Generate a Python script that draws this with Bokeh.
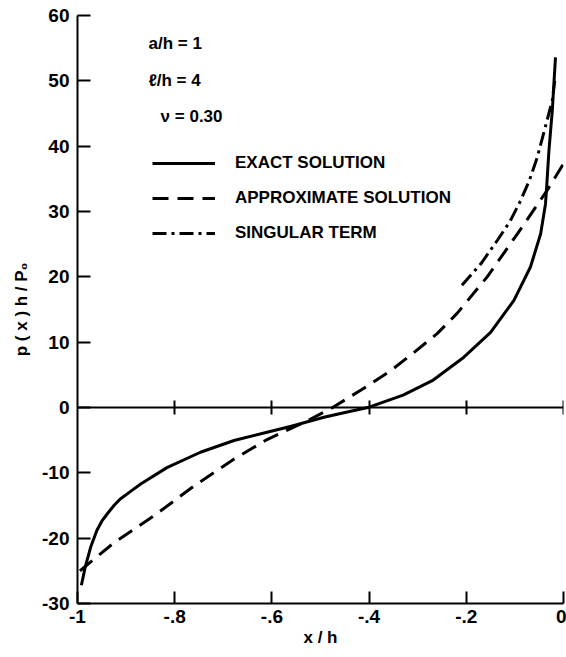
from bokeh.plotting import figure
from bokeh.models import LinearAxis, FixedTicker, Legend, LegendItem, Label
from bokeh.embed import file_html
from bokeh.resources import INLINE

# ---- data ----
exact_x = [-0.992, -0.984, -0.973, -0.96, -0.95, -0.939, -0.925, -0.912, -0.89, -0.87, -0.816,
           -0.747, -0.678, -0.61, -0.562, -0.493, -0.445, -0.40, -0.33, -0.27, -0.205,
           -0.15, -0.102, -0.068, -0.047, -0.037, -0.034, -0.030, -0.023, -0.0165]
exact_y = [-27.2, -24.4, -21.4, -18.8, -17.4, -16.3, -15.0, -14.0, -12.8, -11.7, -9.2,
           -6.85, -5.05, -3.8, -2.9, -1.5, -0.7, 0.05, 1.9, 4.1, 7.7,
           11.5, 16.4, 21.5, 26.6, 31.2, 34.5, 39.3, 45.5, 53.6]

approx_x = [-0.995, -0.925, -0.843, -0.76, -0.68, -0.61, -0.534, -0.475, -0.414, -0.356,
            -0.308, -0.26, -0.219, -0.157, -0.088, -0.034, 0.0]
approx_y = [-25.0, -20.7, -16.6, -12.0, -8.0, -4.9, -2.3, 0.0, 2.8, 5.6,
            8.4, 11.3, 14.4, 20.0, 27.3, 33.2, 37.3]

sing_x = [-0.209, -0.17, -0.136, -0.11, -0.088, -0.07, -0.054, -0.034, -0.023, -0.018]
sing_y = [18.7, 22.0, 25.6, 28.5, 31.7, 34.8, 38.3, 43.9, 47.0, 50.0]

x_ticks = [-1, -0.8, -0.6, -0.4, -0.2, 0]
x_tick_labels = ["-1", "-.8", "-.6", "-.4", "-.2", "0"]
y_ticks = [-30, -20, -10, 0, 10, 20, 30, 40, 50, 60]
y_tick_labels = ["-30", "-20", "-10", "0", "10", "20", "30", "40", "50", "60"]

series_names = ["EXACT SOLUTION", "APPROXIMATE SOLUTION", "SINGULAR TERM"]
notes = ["a/h = 1", "\u2113/h = 4", "\u03bd  = 0.30"]
x_title = "x / h"
y_title = "p ( x ) h / P\u2080"

# ---- style / layout ----
FONT = "Liberation Sans"
note_x = [-0.854, -0.854, -0.829]
note_y = [55.7, 50.05, 44.5]

p = figure(width=566, height=657, x_range=(-1, 0), y_range=(-30, 60),
           output_backend="svg", toolbar_location=None,
           min_border_left=77, min_border_right=3, min_border_top=15, min_border_bottom=54,
           x_axis_label=x_title, y_axis_label=y_title)
p.grid.visible = False
p.outline_line_color = None
p.background_fill_color = "white"
p.border_fill_color = "white"

for ax in p.xaxis + p.yaxis:
    ax.axis_line_width = 2
    ax.major_tick_line_width = 2
    ax.minor_tick_in = 0
    ax.minor_tick_out = 0
    ax.major_tick_out = 0
    ax.major_label_text_font = FONT
    ax.major_label_text_font_style = "bold"
    ax.major_label_text_font_size = "19px"
    ax.major_label_text_color = "black"
    ax.axis_label_text_font = FONT
    ax.axis_label_text_font_style = "bold"
    ax.axis_label_text_font_size = "17px"
    ax.axis_label_text_color = "black"

p.xaxis.ticker = FixedTicker(ticks=x_ticks)
p.xaxis.major_label_overrides = dict(zip(x_ticks, x_tick_labels))
p.xaxis.major_tick_in = 12
p.xaxis.major_label_standoff = 6
p.xaxis.axis_label_standoff = 2

p.yaxis.ticker = FixedTicker(ticks=y_ticks)
p.yaxis.major_label_overrides = dict(zip(y_ticks, y_tick_labels))
p.yaxis.major_tick_in = 13
p.yaxis.major_label_standoff = 8
p.yaxis.axis_label_standoff = 8

# axis line through y = 0 with ticks crossing it (no labels)
zero_ticks = x_ticks[1:]
zero_axis = LinearAxis(fixed_location=0, ticker=FixedTicker(ticks=zero_ticks),
                       major_label_overrides={t: "" for t in zero_ticks},
                       major_label_standoff=0,
                       major_tick_in=7, major_tick_out=7,
                       minor_tick_in=0, minor_tick_out=0,
                       axis_line_width=2, major_tick_line_width=2)
p.add_layout(zero_axis, "below")

r_exact = p.line(exact_x, exact_y, line_color="black", line_width=3, line_join="round")
r_approx = p.line(approx_x, approx_y, line_color="black", line_width=3, line_dash="16 9",
                  line_join="round")
r_sing = p.line(sing_x, sing_y, line_color="black", line_width=3, line_dash="14 5 3 5",
                line_join="round")

legend = Legend(items=[LegendItem(label=series_names[0], renderers=[r_exact]),
                       LegendItem(label=series_names[1], renderers=[r_approx]),
                       LegendItem(label=series_names[2], renderers=[r_sing])],
                location=(75, 360), padding=0, margin=0, spacing=15,
                glyph_width=63, glyph_height=20, label_height=20, label_standoff=20,
                label_text_font=FONT, label_text_font_size="17px",
                label_text_font_style="bold", label_text_color="black",
                border_line_alpha=0, background_fill_alpha=0)
p.add_layout(legend)

for t, nx, ny in zip(notes, note_x, note_y):
    p.add_layout(Label(x=nx, y=ny, text=t, text_font=FONT, text_font_size="17px",
                       text_font_style="bold", text_baseline="middle", text_color="black"))

open("out.html", "w").write(file_html(p, INLINE))
